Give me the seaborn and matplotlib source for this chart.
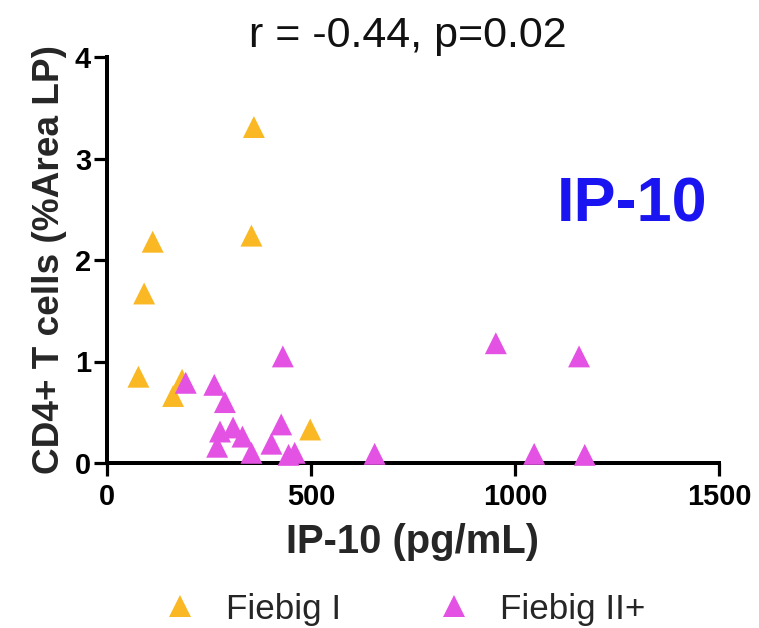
import matplotlib
matplotlib.use("Agg")
import matplotlib.pyplot as plt
from matplotlib.lines import Line2D
import seaborn as sns
import pandas as pd

# ---- data ----
fiebig1_x = [77, 91, 112, 360, 354, 162, 184, 498]
fiebig1_y = [0.85, 1.67, 2.18, 3.31, 2.24, 0.66, 0.82, 0.33]
fiebig2_x = [193, 263, 289, 431, 427, 309, 277, 270, 332, 354, 403, 445, 460,
             656, 953, 1047, 1157, 1171]
fiebig2_y = [0.79, 0.77, 0.60, 1.05, 0.38, 0.35, 0.31, 0.16, 0.26, 0.10, 0.19,
             0.08, 0.10, 0.09, 1.18, 0.09, 1.05, 0.08]
groups = ["Fiebig I", "Fiebig II+"]
x_ticks = [0, 500, 1000, 1500]
y_ticks = [0, 1, 2, 3, 4]
title_text = "r = -0.44, p=0.02"
panel_label = "IP-10"
x_label = "IP-10 (pg/mL)"
y_label = "CD4+ T cells (%Area LP)"

colors = {"Fiebig I": "#F9B824", "Fiebig II+": "#E352E3"}

df = pd.DataFrame({
    "x": fiebig1_x + fiebig2_x,
    "y": fiebig1_y + fiebig2_y,
    "group": [groups[0]] * len(fiebig1_x) + [groups[1]] * len(fiebig2_x),
})

sns.set_theme(style="ticks")
plt.rcParams["font.family"] = ["Liberation Sans", "DejaVu Sans"]

W, H = 759, 628
DPI = 72
fig = plt.figure(figsize=(W / DPI, H / DPI), dpi=DPI)
L, R, T, B = 107, 719, 57, 463
ax = fig.add_axes([L / W, 1 - B / H, (R - L) / W, (B - T) / H])

sns.scatterplot(data=df, x="x", y="y", hue="group", palette=colors,
                marker="^", s=480, linewidth=0, ax=ax, legend=False,
                zorder=3, clip_on=False)

ax.set_xlim(0, 1500)
ax.set_ylim(0, 4)
ax.set_xticks(x_ticks)
ax.set_yticks(y_ticks)
ax.set_xticklabels([str(t) for t in x_ticks])
ax.set_yticklabels([str(t) for t in y_ticks])
sns.despine(ax=ax)
for s in ["left", "bottom"]:
    ax.spines[s].set_linewidth(4)
    ax.spines[s].set_color("black")
ax.tick_params(axis="both", direction="out", length=13, width=3.2,
               color="black", labelsize=29, labelcolor="black")
ax.tick_params(axis="x", pad=7)
ax.tick_params(axis="y", pad=3)
for lab in ax.get_xticklabels() + ax.get_yticklabels():
    lab.set_fontweight("bold")

ax.set_xlabel(x_label, fontsize=40, fontweight="bold", labelpad=12)
ax.set_ylabel(y_label, fontsize=37, fontweight="bold", labelpad=8)

fig.text(407.5 / W, 1 - 47 / H, title_text, ha="center", va="baseline",
         fontsize=43, color="#111111")
fig.text(632.5 / W, 1 - 221.7 / H, panel_label, ha="center", va="baseline",
         fontsize=63, fontweight="bold", color="#1A14F0")

handles = [Line2D([0], [0], marker="^", linestyle="none", markersize=22,
                  markerfacecolor=colors[g], markeredgewidth=0, label=g)
           for g in groups]
fig.legend(handles=handles, loc="center", bbox_to_anchor=(404 / W, 1 - 609 / H),
           ncol=2, frameon=False, fontsize=35, handlelength=1.0,
           handletextpad=0.8, columnspacing=2.73, borderpad=0, borderaxespad=0)

fig.savefig("out.png", dpi=DPI)
